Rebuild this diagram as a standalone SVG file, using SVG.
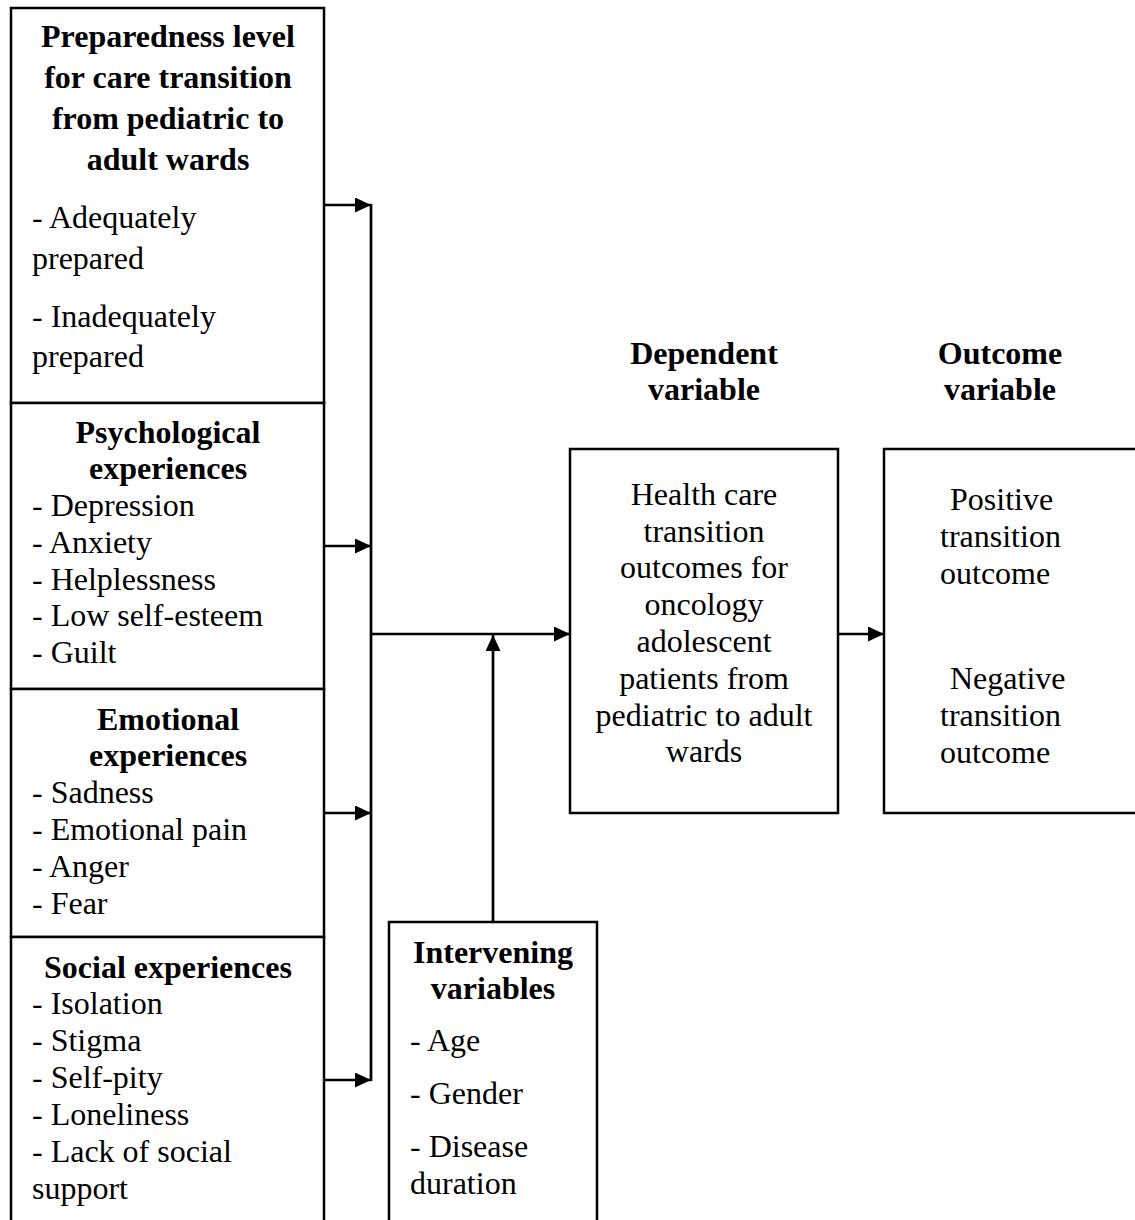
<svg xmlns="http://www.w3.org/2000/svg" width="1135" height="1220" viewBox="0 0 1135 1220">
<defs>
<marker id="ah" viewBox="0 0 16 15" refX="16" refY="7.5" markerWidth="16" markerHeight="15" markerUnits="userSpaceOnUse" orient="auto">
<path d="M0,0 L16,7.5 L0,15 z" fill="#000"/>
</marker>
<style>
.box{fill:#fff;stroke:#000;stroke-width:2.5}
.t{font-family:"Liberation Serif","Times New Roman",serif;font-size:32px;fill:#000}
.b{font-weight:bold}
.c{text-anchor:middle}
.ln{fill:none;stroke:#000;stroke-width:2.7}
</style>
</defs>
<g id="preparedness">
<rect class="box" x="11" y="8" width="313" height="395"/>
<text class="t b c" x="168" y="47">Preparedness level</text>
<text class="t b c" x="168" y="88">for care transition</text>
<text class="t b c" x="168" y="129">from pediatric to</text>
<text class="t b c" x="168" y="170">adult wards</text>
<text class="t" x="32" y="228">- Adequately</text>
<text class="t" x="32" y="269">prepared</text>
<text class="t" x="32" y="327">- Inadequately</text>
<text class="t" x="32" y="367">prepared</text>
</g>
<g id="psychological">
<rect class="box" x="11" y="403" width="313" height="286"/>
<text class="t b c" x="168" y="443">Psychological</text>
<text class="t b c" x="168" y="479">experiences</text>
<text class="t" x="32" y="516">- Depression</text>
<text class="t" x="32" y="553">- Anxiety</text>
<text class="t" x="32" y="590">- Helplessness</text>
<text class="t" x="32" y="626">- Low self-esteem</text>
<text class="t" x="32" y="663">- Guilt</text>
</g>
<g id="emotional">
<rect class="box" x="11" y="689" width="313" height="248"/>
<text class="t b c" x="168" y="730">Emotional</text>
<text class="t b c" x="168" y="766">experiences</text>
<text class="t" x="32" y="803">- Sadness</text>
<text class="t" x="32" y="840">- Emotional pain</text>
<text class="t" x="32" y="877">- Anger</text>
<text class="t" x="32" y="914">- Fear</text>
</g>
<g id="social">
<rect class="box" x="11" y="937" width="313" height="300"/>
<text class="t b c" x="168" y="978">Social experiences</text>
<text class="t" x="32" y="1014">- Isolation</text>
<text class="t" x="32" y="1051">- Stigma</text>
<text class="t" x="32" y="1088">- Self-pity</text>
<text class="t" x="32" y="1125">- Loneliness</text>
<text class="t" x="32" y="1162">- Lack of social</text>
<text class="t" x="32" y="1199">support</text>
</g>
<g id="intervening">
<rect class="box" x="389" y="922" width="208" height="315"/>
<text class="t b c" x="493" y="963">Intervening</text>
<text class="t b c" x="493" y="999">variables</text>
<text class="t" x="410" y="1051">- Age</text>
<text class="t" x="410" y="1104">- Gender</text>
<text class="t" x="410" y="1157">- Disease</text>
<text class="t" x="410" y="1194">duration</text>
</g>
<g id="dependent-label">
<text class="t b c" x="704" y="364">Dependent</text>
<text class="t b c" x="704" y="400">variable</text>
</g>
<g id="outcome-label">
<text class="t b c" x="1000" y="364">Outcome</text>
<text class="t b c" x="1000" y="400">variable</text>
</g>
<g id="dependent">
<rect class="box" x="570" y="449" width="268" height="364"/>
<text class="t c" x="704" y="505">Health care</text>
<text class="t c" x="704" y="542">transition</text>
<text class="t c" x="704" y="578">outcomes for</text>
<text class="t c" x="704" y="615">oncology</text>
<text class="t c" x="704" y="652">adolescent</text>
<text class="t c" x="704" y="689">patients from</text>
<text class="t c" x="704" y="726">pediatric to adult</text>
<text class="t c" x="704" y="762">wards</text>
</g>
<g id="outcome">
<rect class="box" x="884" y="449" width="260" height="364"/>
<text class="t" x="950" y="510">Positive</text>
<text class="t" x="940" y="547">transition</text>
<text class="t" x="940" y="584">outcome</text>
<text class="t" x="950" y="689">Negative</text>
<text class="t" x="940" y="726">transition</text>
<text class="t" x="940" y="763">outcome</text>
</g>
<g id="connectors">
<line class="ln" x1="324" y1="205" x2="371" y2="205" marker-end="url(#ah)"/>
<line class="ln" x1="324" y1="546" x2="371" y2="546" marker-end="url(#ah)"/>
<line class="ln" x1="324" y1="813" x2="371" y2="813" marker-end="url(#ah)"/>
<line class="ln" x1="324" y1="1080" x2="371" y2="1080" marker-end="url(#ah)"/>
<line class="ln" x1="371" y1="204" x2="371" y2="1081"/>
<line class="ln" x1="371" y1="634" x2="570" y2="634" marker-end="url(#ah)"/>
<line class="ln" x1="493" y1="922" x2="493" y2="635" marker-end="url(#ah)"/>
<line class="ln" x1="838" y1="634" x2="884" y2="634" marker-end="url(#ah)"/>
</g>
</svg>
